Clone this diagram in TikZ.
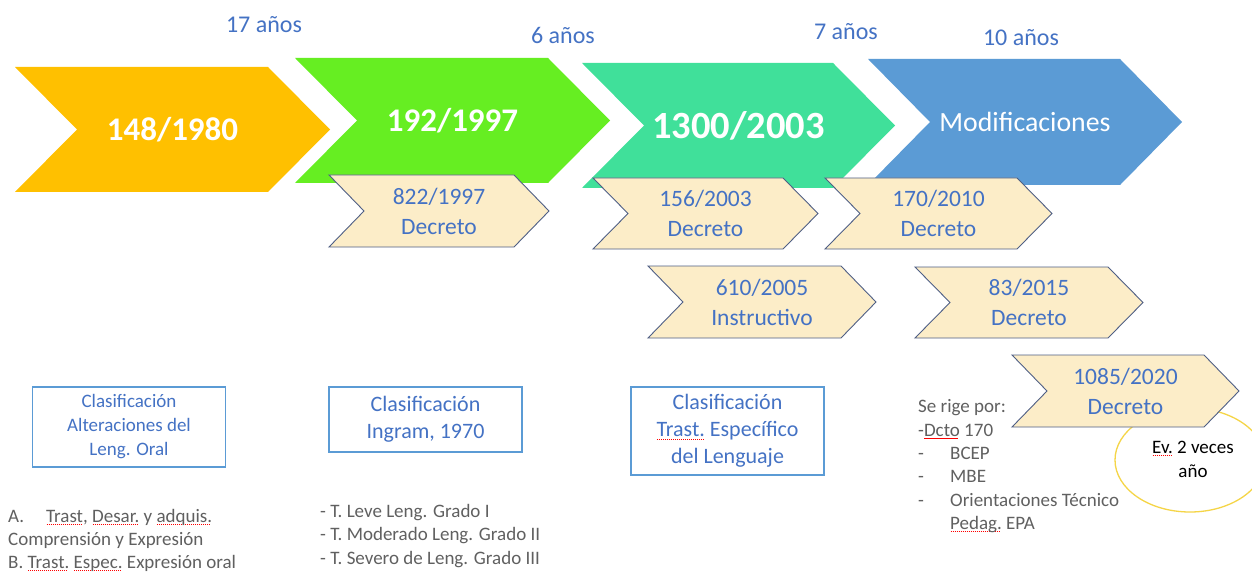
\documentclass[tikz,border=0pt]{standalone}
\usepackage{fontspec}
\setmainfont{Carlito}
\definecolor{cyellow}{HTML}{FFC000}
\definecolor{cgreen}{HTML}{66EE22}
\definecolor{cteal}{HTML}{40E09A}
\definecolor{cblue}{HTML}{5B9BD5}
\definecolor{ccream}{HTML}{FCEDC8}
\definecolor{cedge}{HTML}{4F5F85}
\definecolor{txtblue}{HTML}{4472C4}
\definecolor{txtgray}{HTML}{606060}
\definecolor{boxblue}{HTML}{5B9BD5}
\definecolor{ellyellow}{HTML}{F5D547}
\newsavebox\splbox
\newcommand\spl[1]{\sbox\splbox{#1}\rlap{\lower3pt\hbox to\wd\splbox{\color{red}\leaders\hbox to 2pt{\hss\vrule width 1.2pt height 0.7pt depth 0pt\hss}\hfil}}\usebox\splbox}
% #1 name, #2 path style, #3 x, #4 y, #5 w, #6 h, #7 d, #8 text style, #9 text
\newcommand\chev[9]{%
  \path[#2] (#3,#4) -- ++({#5-#7},0) -- ++(#7,{#6/2}) -- ++(-#7,{#6/2}) -- ++({#7-#5},0) -- ++(#7,{-#6/2}) -- cycle;
  \node[#8] (#1) at ({#3+#5/2},{#4+#6/2}) {#9};}
\begin{document}
\begin{tikzpicture}[x=1pt,y=-1pt,
  bigtext/.style={text=white,font=\bfseries\fontsize{33}{36}\selectfont},
  smallchev/.style={fill=ccream,draw=cedge,line width=0.9pt,line join=miter},
  smalltext/.style={text=txtblue,align=center,font=\fontsize{23.5}{30}\selectfont},
  yearlbl/.style={text=txtblue,font=\fontsize{24}{28}\selectfont},
  clbox/.style={draw=boxblue,line width=1.3pt,fill=white,text=txtblue,align=center,minimum width=193pt,inner sep=0pt},
  gl/.style={text=txtgray,anchor=base west,inner sep=0pt,font=\fontsize{19}{23}\selectfont}]
\useasboundingbox (0,0) rectangle (1252,572);
\fill[white] (0,0) rectangle (1252,572);

% year labels
\node[yearlbl] (y1) at (264,25) {17 años};
\node[yearlbl] (y2) at (563,35) {6 años};
\node[yearlbl] (y3) at (846,32) {7 años};
\node[yearlbl] (y4) at (1021,38) {10 años};

% ellipse behind
\draw[ellyellow,line width=1.3pt] (1190,460) ellipse [x radius=75pt,y radius=52pt];
\node[text=black,align=center,font=\fontsize{19}{24}\selectfont] (ev) at (1193,459) {\spl{Ev.} 2 veces\\año};

% big chevrons
\chev{c1}{fill=cyellow}{15}{67}{315}{125}{62}{bigtext}{148/1980}
\chev{c2}{fill=cgreen}{295}{58}{315}{125}{62}{bigtext}{192/1997}
\chev{c3}{fill=cteal}{582}{63}{313}{125}{62}{bigtext,font=\bfseries\fontsize{38.5}{42}\selectfont}{1300/2003}
\chev{c4}{fill=cblue}{868}{59}{314}{126}{62}{text=white,font=\fontsize{27.8}{32}\selectfont}{Modificaciones}

% small chevrons
\chev{s1}{smallchev}{329}{175}{220}{72}{35}{smalltext}{822/1997\\Decreto}
\chev{s2}{smallchev}{593}{178}{225}{71}{35}{smalltext}{156/2003\\Decreto}
\chev{s3}{smallchev}{825}{178}{227}{71}{35}{smalltext}{170/2010\\Decreto}
\chev{s4}{smallchev}{648}{266}{228}{72}{35}{smalltext}{610/2005\\Instructivo}
\chev{s5}{smallchev}{915}{267}{228}{71}{35}{smalltext}{83/2015\\Decreto}
\chev{s6}{smallchev}{1012}{355}{227}{72}{35}{smalltext}{1085/2020\\Decreto}

% classification boxes
\node[clbox,minimum height=80pt,font=\fontsize{19}{24}\selectfont] (b1) at (129,427) {Clasificación\\Alteraciones del\\Leng. Oral};
\node[clbox,minimum height=65pt,font=\fontsize{22}{27}\selectfont] (b2) at (425.5,419.5) {Clasificación\\Ingram, 1970};
\node[clbox,minimum height=88pt,font=\fontsize{22}{27}\selectfont] (b3) at (727.5,431) {Clasificación\\\spl{Trast.} Específico\\del Lenguaje};

% list A/B
\node[gl] (a1) at (8,522) {A.\hspace{22pt}\spl{Trast}, \spl{Desar.} y \spl{adquis.}};
\node[gl] (a2) at (8,545) {Comprensión y Expresión};
\node[gl] (a3) at (8,568) {B. \spl{Trast.} \spl{Espec.} Expresión oral};
% Ingram list
\node[gl] (i1) at (320,517) {- T. Leve Leng. Grado I};
\node[gl] (i2) at (320,540.5) {- T. Moderado Leng. Grado II};
\node[gl] (i3) at (320,564) {- T. Severo de Leng. Grado III};
% Se rige por
\node[gl] (r1) at (918,412.5) {Se rige por:};
\node[gl] (r2) at (918,436) {-\spl{Dcto} 170};
\node[gl] (r3) at (918,459.5) {-};
\node[gl] (r3t) at (950,459.5) {BCEP};
\node[gl] (r4) at (918,482.5) {-};
\node[gl] (r4t) at (950,482.5) {MBE};
\node[gl] (r5) at (918,506) {-};
\node[gl] (r5t) at (950,506) {Orientaciones Técnico};
\node[gl] (r6t) at (950,529) {\spl{Pedag.} EPA};
\end{tikzpicture}
\end{document}
